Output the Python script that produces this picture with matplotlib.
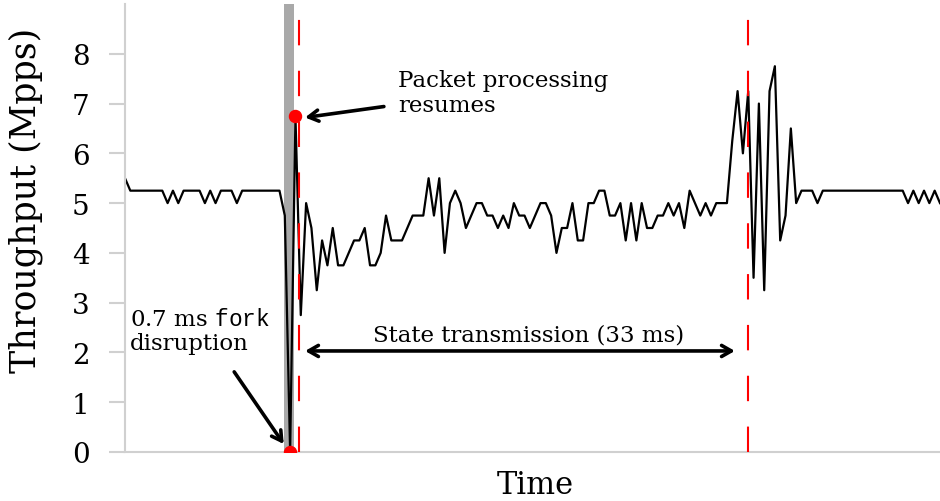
import numpy as np
import matplotlib
matplotlib.use("Agg")
import matplotlib.pyplot as plt

plt.rcParams['font.family'] = ['DejaVu Serif']
plt.rcParams['mathtext.fontset'] = 'custom'
plt.rcParams['mathtext.tt'] = 'Liberation Mono'

# throughput samples (Mpps), one every time step
throughput = [
    5.5, 5.25, 5.25, 5.25, 5.25, 5.25, 5.25, 5.25, 5.0, 5.25,
    5.0, 5.25, 5.25, 5.25, 5.25, 5.0, 5.25, 5.0, 5.25, 5.25,
    5.25, 5.0, 5.25, 5.25, 5.25, 5.25, 5.25, 5.25, 5.25, 5.25,
    4.75, 0.0, 6.75, 2.75, 5.0, 4.5, 3.25, 4.25, 3.75, 4.5,
    3.75, 3.75, 4.0, 4.25, 4.25, 4.5, 3.75, 3.75, 4.0, 4.75,
    4.25, 4.25, 4.25, 4.5, 4.75, 4.75, 4.75, 5.5, 4.75, 5.5,
    4.0, 5.0, 5.25, 5.0, 4.5, 4.75, 5.0, 5.0, 4.75, 4.75,
    4.5, 4.75, 4.5, 5.0, 4.75, 4.75, 4.5, 4.75, 5.0, 5.0,
    4.75, 4.0, 4.5, 4.5, 5.0, 4.25, 4.25, 5.0, 5.0, 5.25,
    5.25, 4.75, 4.75, 5.0, 4.25, 5.0, 4.25, 5.0, 4.5, 4.5,
    4.75, 4.75, 5.0, 4.75, 5.0, 4.5, 5.25, 5.0, 4.75, 5.0,
    4.75, 5.0, 5.0, 5.0, 6.25, 7.25, 6.0, 7.25, 3.5, 7.0,
    3.25, 7.25, 7.75, 4.25, 4.75, 6.5, 5.0, 5.25, 5.25, 5.25,
    5.0, 5.25, 5.25, 5.25, 5.25, 5.25, 5.25, 5.25, 5.25, 5.25,
    5.25, 5.25, 5.25, 5.25, 5.25, 5.25, 5.25, 5.0, 5.25, 5.0,
    5.25, 5.0, 5.25, 5.0,
]
t = np.arange(len(throughput))

# events, in time steps
fork_window = (29.85, 31.75)
drop_idx = 31
resume_idx = 32
transfer_start = 32.7
transfer_end = 116.9

yticks = [0, 1, 2, 3, 4, 5, 6, 7, 8]

fig = plt.figure(figsize=(9.4, 5.02), dpi=100)
ax = fig.add_axes([125 / 940, 49 / 502, 815 / 940, 448 / 502])

ax.axvspan(*fork_window, color='#a9a9a9', lw=0, zorder=1)
ax.plot(t, throughput, color='black', lw=1.6, zorder=2)
for xv in (transfer_start, transfer_end):
    ax.axvline(xv, color='red', lw=1.5, linestyle=(0, (12.2, 12.2)), zorder=3)

ax.scatter([t[drop_idx], t[resume_idx]],
           [throughput[drop_idx], throughput[resume_idx]],
           s=75, color='red', zorder=4, clip_on=True)

ax.set_xlim(0, len(throughput) - 1)
ax.set_ylim(0, 9)
ax.set_yticks(yticks)
ax.set_xticks([])
for side in ('top', 'right'):
    ax.spines[side].set_visible(False)
for side in ('left', 'bottom'):
    ax.spines[side].set_color('#d0d0d0')
    ax.spines[side].set_linewidth(1.5)
ax.tick_params(axis='y', length=11.5, width=1.5, color='#d0d0d0',
               pad=14, labelsize=20)

ax.set_ylabel('Throughput (Mpps)', fontsize=25)
ax.yaxis.set_label_coords(-0.1, 0.565)
ax.set_xlabel('Time', fontsize=22)
ax.xaxis.set_label_coords(0.504, -0.038)

arrow = dict(arrowstyle='->,head_length=0.7,head_width=0.4', lw=2.6,
             color='black', shrinkA=0, shrinkB=0)

ax.text(51.25, 7.22, 'Packet processing\nresumes', fontsize=16.5,
        va='center', ha='left', linespacing=1.15)
ax.annotate('', xy=(33.8, 6.72), xytext=(48.6, 6.94), arrowprops=arrow)

ax.text(0.94, 2.43, '0.7 ms $\\mathtt{fork}$\ndisruption', fontsize=16.5,
        va='center', ha='left', linespacing=1.15)
ax.annotate('', xy=(29.8, 0.16), xytext=(20.5, 1.61), arrowprops=arrow)

ax.text(75.8, 2.37, 'State transmission (33 ms)', fontsize=16.5,
        va='center', ha='center')
ax.annotate('', xy=(33.8, 2.03), xytext=(114.5, 2.03),
            arrowprops=dict(arrow, arrowstyle='<->,head_length=0.7,head_width=0.4'))

fig.savefig('out.png', dpi=100)
